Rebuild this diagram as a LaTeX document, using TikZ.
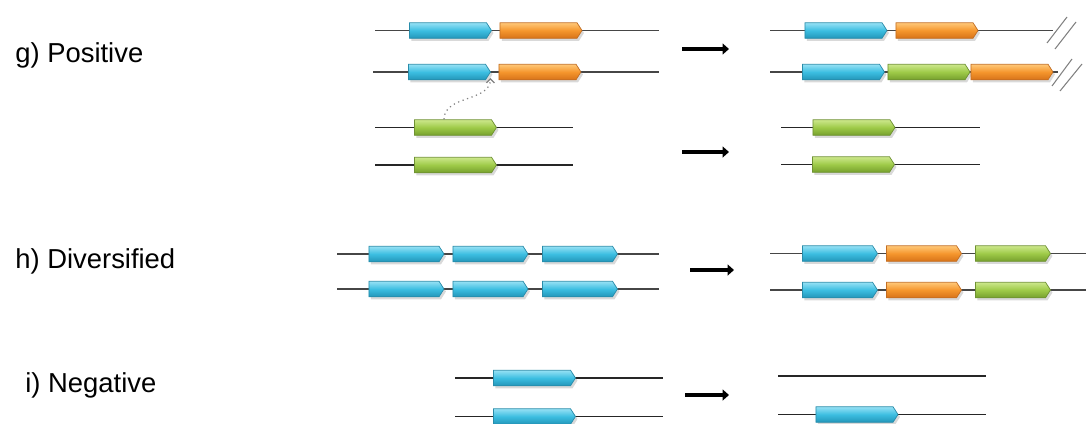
\documentclass[tikz,border=0pt]{standalone}
\usepackage{fontspec}
\setmainfont{Liberation Sans}
\usetikzlibrary{shapes.arrows,shadows,arrows.meta}

\definecolor{blueT}{RGB}{150,225,245}
\definecolor{blueM}{RGB}{60,190,225}
\definecolor{blueB}{RGB}{35,150,185}
\definecolor{blueD}{RGB}{40,140,170}
\definecolor{orangeT}{RGB}{255,200,120}
\definecolor{orangeM}{RGB}{245,150,45}
\definecolor{orangeB}{RGB}{215,115,25}
\definecolor{orangeD}{RGB}{195,110,35}
\definecolor{greenT}{RGB}{205,232,140}
\definecolor{greenM}{RGB}{158,202,72}
\definecolor{greenB}{RGB}{118,160,45}
\definecolor{greenD}{RGB}{110,145,50}
\definecolor{chrom}{RGB}{70,70,70}

\begin{document}
\begin{tikzpicture}[x=0.02cm,y=-0.02cm]
    \pgfmathsetmacro{\genelen}{1.64}
    \pgfmathsetmacro{\shortlen}{1.5}
    \pgfmathsetmacro{\genewd}{0.31}
    \tikzset{gene/.style={single arrow,single arrow head extend=0pt,single arrow tip angle=115,
        minimum height=\genelen cm,minimum width=\genewd cm,inner sep=0pt,line width=0.4pt,
        drop shadow={shadow xshift=0.04cm,shadow yshift=-0.05cm,opacity=0.3}},
      short/.style={minimum height=\shortlen cm},
      blue/.style={gene,draw=blueD,top color=blueT,bottom color=blueB,middle color=blueM},
      orange/.style={gene,draw=orangeD,top color=orangeT,bottom color=orangeB,middle color=orangeM},
      green/.style={gene,draw=greenD,top color=greenT,bottom color=greenB,middle color=greenM},
      chr/.style={draw=chrom,line width=0.75pt},
      fate/.style={line width=0.09cm,-{Triangle[length=0.13cm,width=0.22cm]}},
      cut/.style={draw=gray,line width=0.6pt},
      label/.style={anchor=base west,inner sep=0pt,font=\fontsize{15.6}{18}\selectfont}}
    \useasboundingbox (0,0) rectangle (1089,423);

    % labels
    \node[label] (lg) at (15,62.5) {g) Positive};
    \node[label] (lh) at (15,268) {h) Diversified};
    \node[label] (li) at (25,392) {i) Negative};

    % g) chromosomes
    \draw[chr] (375,30.5) -- (659,30.5);
    \draw[chr] (373,72) -- (659,72);
    \draw[chr,draw=black!85] (375,127.5) -- (573,127.5);
    \draw[chr,draw=black!85] (375,165) -- (573,165);
    \draw[chr] (770,30.5) -- (1053,30.5);
    \draw[chr] (770,72) -- (1058,72);
    \draw[chr,draw=black!85] (781,127.5) -- (980,127.5);
    \draw[chr,draw=black!85] (781,164.5) -- (980,164.5);
    \node[blue] (gL1a) at (448,30.5) {};
    \node[orange] (gL1b) at (538.5,30.5) {};
    \node[blue] (gL2a) at (447,72) {};
    \node[orange] (gL2b) at (537.5,72) {};
    \node[green] (gL3) at (453,127.5) {};
    \node[green] (gL4) at (453,165) {};
    \node[blue] (gR1a) at (843.5,30.5) {};
    \node[orange] (gR1b) at (934.5,30.5) {};
    \node[blue] (gR2a) at (841,72) {};
    \node[green] (gR2b) at (926.5,72) {};
    \node[orange] (gR2c) at (1009.5,72) {};
    \node[green] (gR3) at (851.5,127.5) {};
    \node[green] (gR4) at (851,164.5) {};
    \coordinate (ins) at (490.5,78);
    \draw[gray,dotted,line width=0.7pt,-{Straight Barb[length=0.08cm,width=0.16cm]}]
      ([xshift=-0.18cm]gL3.north) .. controls (444,95) and (490,102) .. (ins);
    \draw[cut] (1047,43) -- (1067,17);
    \draw[cut] (1055,49) -- (1076,22);
    \draw[cut] (1052,86) -- (1072,59);
    \draw[cut] (1060,91) -- (1082,64);

    % h) chromosomes
    \draw[chr] (337,254) -- (659,254);
    \draw[chr] (337,289) -- (659,289);
    \draw[chr] (770,253.5) -- (1086,253.5);
    \draw[chr] (770,290) -- (1086,290);
    \node[blue,short] (hL1a) at (404,254) {};
    \node[blue,short] (hL1b) at (488,254) {};
    \node[blue,short] (hL1c) at (577.5,254) {};
    \node[blue,short] (hL2a) at (404,289) {};
    \node[blue,short] (hL2b) at (488,289) {};
    \node[blue,short] (hL2c) at (577.5,289) {};
    \node[blue,short] (hR1a) at (837.5,253.5) {};
    \node[orange,short] (hR1b) at (921.5,253.5) {};
    \node[green,short] (hR1c) at (1010.5,253.5) {};
    \node[blue,short] (hR2a) at (837.5,290) {};
    \node[orange,short] (hR2b) at (921.5,290) {};
    \node[green,short] (hR2c) at (1010.5,290) {};

    % i) chromosomes
    \draw[chr,draw=black!85] (455,378) -- (663,378);
    \draw[chr,draw=black!85] (455,416.5) -- (663,416.5);
    \draw[chr,draw=black!85] (778,376) -- (986,376);
    \draw[chr,draw=black!85] (778,414.5) -- (986,414.5);
    \node[blue] (iL1) at (532,378) {};
    \node[blue] (iL2) at (532,416.5) {};
    \node[blue] (iR2) at (854.5,414.5) {};

    % arrows
    \coordinate (g1s) at (682,49);   \coordinate (g1e) at (729,49);
    \coordinate (g2s) at (682,152);  \coordinate (g2e) at (729,152);
    \coordinate (hs) at (690,270);   \coordinate (he) at (734,270);
    \coordinate (is) at (685,395);   \coordinate (ie) at (729,395);
    \draw[fate] (g1s) -- (g1e);
    \draw[fate] (g2s) -- (g2e);
    \draw[fate] (hs) -- (he);
    \draw[fate] (is) -- (ie);
\end{tikzpicture}
\end{document}
